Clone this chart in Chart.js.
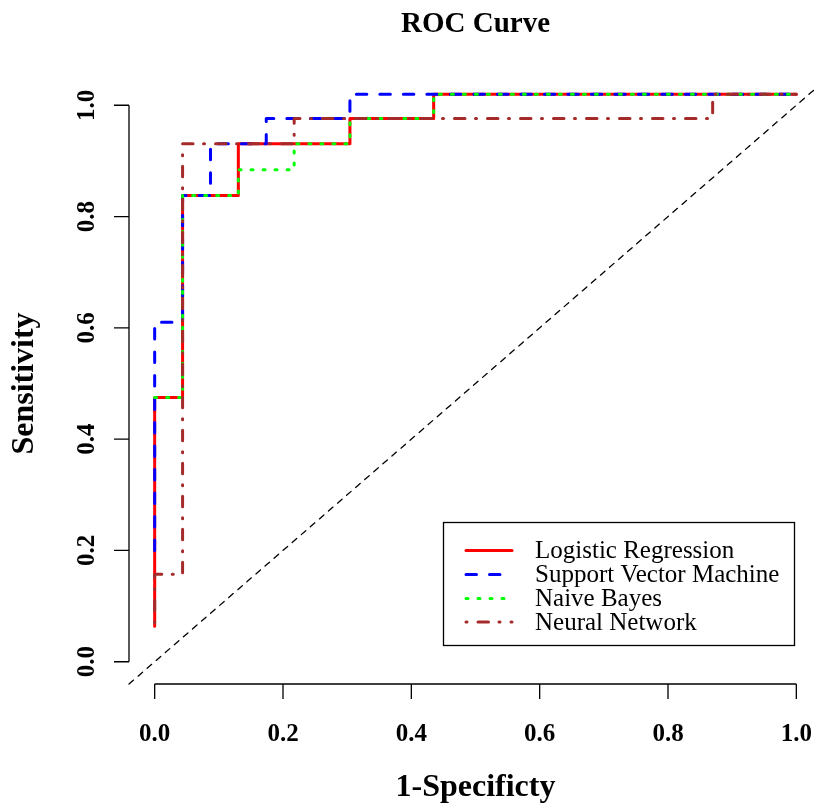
<!DOCTYPE html>
<html>
<head>
<meta charset="utf-8">
<script src="https://cdn.jsdelivr.net/npm/chart.js@4.4.1/dist/chart.umd.min.js"></script>
<style>
  html, body { margin: 0; padding: 0; background: #fff; overflow: hidden; }
  #wrap { width: 816px; height: 809px; overflow: hidden; }
  canvas { display: block; }
</style>
</head>
<body>
<div id="wrap"><canvas id="c" width="830" height="809"></canvas></div>
<script>
// ---- Data (step corners of each ROC curve) ----
const lrFpr  = [0, 0, 0.0435, 0.0435, 0.1304, 0.1304, 0.3043, 0.3043, 0.4348, 0.4348, 1.0];
const lrTpr  = [0.064, 0.475, 0.475, 0.838, 0.838, 0.931, 0.931, 0.976, 0.976, 1.020, 1.020];

const svmFpr = [0, 0, 0.0435, 0.0435, 0.0870, 0.0870, 0.1739, 0.1739, 0.3043, 0.3043, 1.0];
const svmTpr = [0.200, 0.610, 0.610, 0.838, 0.838, 0.931, 0.931, 0.976, 0.976, 1.020, 1.020];

const nbFpr  = [0, 0.0435, 0.0435, 0.1304, 0.1304, 0.2174, 0.2174, 0.3043, 0.3043, 0.4348, 0.4348, 1.0];
const nbTpr  = [0.475, 0.475, 0.838, 0.838, 0.884, 0.884, 0.931, 0.931, 0.976, 0.976, 1.020, 1.020];

const nnFpr  = [0, 0, 0.0435, 0.0435, 0.2174, 0.2174, 0.8696, 0.8696, 1.0];
const nnTpr  = [0.070, 0.157, 0.157, 0.931, 0.931, 0.976, 0.976, 1.020, 1.020];

const diagX  = [-0.04, 1.04];
const diagY  = [-0.04, 1.04];

const seriesNames = ["Logistic Regression", "Support Vector Machine", "Naive Bayes", "Neural Network"];
const xTicks = [0, 0.2, 0.4, 0.6, 0.8, 1.0];
const yTicks = [0, 0.2, 0.4, 0.6, 0.8, 1.0];
const xTickLabels = ["0.0", "0.2", "0.4", "0.6", "0.8", "1.0"];
const yTickLabels = ["0.0", "0.2", "0.4", "0.6", "0.8", "1.0"];
const titleText = "ROC Curve";
const xTitle = "1-Specificty";
const yTitle = "Sensitivity";

// ---- styles ----
const colors = ["#FF0000", "#0000FF", "#00FF00", "#A52A2A"];
const dashes = [[], [10.5, 13], [2, 10], [1, 11, 10.5, 10.5]];
const LW = 3;

function pts(xs, ys) { return xs.map((x, i) => ({ x: x, y: ys[i] })); }

const datasets = [
  { label: "diag", data: pts(diagX, diagY), borderColor: "#000", borderWidth: 1.3, borderDash: [6, 6], order: 5 },
  { label: seriesNames[0], data: pts(lrFpr, lrTpr), borderColor: colors[0], borderWidth: LW, borderDash: dashes[0], order: 4 },
  { label: seriesNames[1], data: pts(svmFpr, svmTpr), borderColor: colors[1], borderWidth: LW, borderDash: dashes[1], order: 3 },
  { label: seriesNames[2], data: pts(nbFpr, nbTpr), borderColor: colors[2], borderWidth: LW, borderDash: dashes[2], order: 2 },
  { label: seriesNames[3], data: pts(nnFpr, nnTpr), borderColor: colors[3], borderWidth: LW, borderDash: dashes[3], order: 1 }
].map(d => Object.assign({ showLine: true, pointRadius: 0, tension: 0, fill: false,
  borderCapStyle: "round", borderJoinStyle: "round", clip: false }, d));

const SERIF = '"Liberation Serif", "Times New Roman", serif';

const rStylePlugin = {
  id: "rstyle",
  afterDraw(chart) {
    const ctx = chart.ctx;
    const xs = chart.scales.x, ys = chart.scales.y;
    const area = chart.chartArea;
    ctx.save();
    ctx.strokeStyle = "#000";
    ctx.fillStyle = "#000";
    ctx.lineWidth = 1.3;
    ctx.setLineDash([]);
    ctx.lineCap = "butt";

    // x axis
    const xb = area.bottom;
    ctx.beginPath();
    ctx.moveTo(xs.getPixelForValue(xTicks[0]), xb);
    ctx.lineTo(xs.getPixelForValue(xTicks[xTicks.length - 1]), xb);
    xTicks.forEach(t => {
      const px = xs.getPixelForValue(t);
      ctx.moveTo(px, xb); ctx.lineTo(px, xb + 15);
    });
    ctx.stroke();
    ctx.font = "bold 25px " + SERIF;
    ctx.textAlign = "center";
    ctx.textBaseline = "alphabetic";
    xTicks.forEach((t, i) => ctx.fillText(xTickLabels[i], xs.getPixelForValue(t), 741));

    // y axis
    const yl = area.left;
    ctx.beginPath();
    ctx.moveTo(yl, ys.getPixelForValue(yTicks[0]));
    ctx.lineTo(yl, ys.getPixelForValue(yTicks[yTicks.length - 1]));
    yTicks.forEach(t => {
      const py = ys.getPixelForValue(t);
      ctx.moveTo(yl, py); ctx.lineTo(yl - 15, py);
    });
    ctx.stroke();
    yTicks.forEach((t, i) => {
      ctx.save();
      ctx.translate(94, ys.getPixelForValue(t));
      ctx.rotate(-Math.PI / 2);
      ctx.fillText(yTickLabels[i], 0, 0);
      ctx.restore();
    });

    // titles
    ctx.font = "bold 29px " + SERIF;
    ctx.fillText(titleText, (area.left + area.right) / 2, 32);
    ctx.font = "bold 32px " + SERIF;
    ctx.fillText(xTitle, (area.left + area.right) / 2, 796);
    ctx.save();
    ctx.translate(33, (area.top + area.bottom) / 2);
    ctx.rotate(-Math.PI / 2);
    ctx.fillText(yTitle, 0, 0);
    ctx.restore();

    // legend
    const bx = 443.5, by = 522.5, bw = 351, bh = 123;
    ctx.fillStyle = "#fff";
    ctx.fillRect(bx, by, bw, bh);
    ctx.strokeStyle = "#000";
    ctx.lineWidth = 1.3;
    ctx.strokeRect(bx, by, bw, bh);
    const rowY = [550.5, 574.5, 598.5, 622];
    ctx.font = "25px " + SERIF;
    ctx.textAlign = "left";
    ctx.textBaseline = "middle";
    for (let i = 0; i < 4; i++) {
      ctx.beginPath();
      ctx.strokeStyle = colors[i];
      ctx.lineWidth = LW;
      ctx.lineCap = "round";
      ctx.setLineDash(dashes[i]);
      ctx.moveTo(466, rowY[i]);
      ctx.lineTo(512, rowY[i]);
      ctx.stroke();
      ctx.fillStyle = "#000";
      ctx.fillText(seriesNames[i], 535, rowY[i] + 1);
    }
    ctx.restore();
  }
};

new Chart(document.getElementById("c"), {
  type: "scatter",
  data: { datasets: datasets },
  options: {
    responsive: false,
    devicePixelRatio: 1,
    animation: false,
    layout: { padding: { left: 129, right: 8, top: 83, bottom: 125 } },
    plugins: { legend: { display: false }, title: { display: false }, tooltip: { enabled: false } },
    scales: {
      x: { type: "linear", min: -0.04, max: 1.04, display: false },
      y: { type: "linear", min: -0.04, max: 1.04, display: false }
    }
  },
  plugins: [rStylePlugin]
});
</script>
</body>
</html>
